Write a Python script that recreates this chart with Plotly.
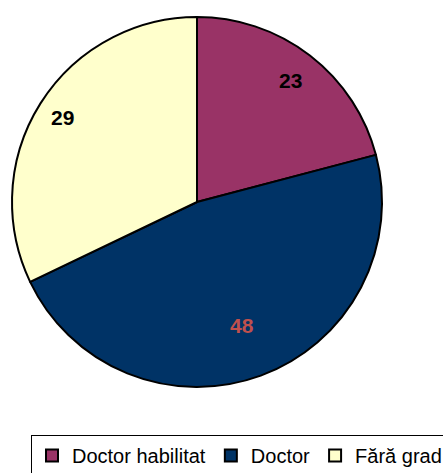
import math
import plotly.graph_objects as go

labels = ["Doctor habilitat", "Doctor", "Fără grad"]
# slice sizes as drawn in the picture (share of the circle, %)
values = [20.9, 47.0, 32.1]
# numbers printed on the slices
value_labels = [23, 48, 29]
colors = ["#993366", "#003366", "#FFFFCC"]
label_colors = ["#000000", "#C0504D", "#000000"]
label_radius = [0.83, 0.71, 0.86]   # label distance from centre, fraction of radius

W, H = 443, 473
M_B = 73
dom_x = [0.0271, 0.8623]
dom_y = [0.0325, 0.9575]
FONT = "Arial, Liberation Sans, sans-serif"

fig = go.Figure(go.Pie(
    labels=labels,
    values=values,
    sort=False,
    direction="clockwise",
    rotation=0,
    marker=dict(colors=colors, line=dict(color="black", width=2)),
    textinfo="none",
    domain=dict(x=dom_x, y=dom_y),
    customdata=value_labels,
    hovertemplate="%{label}: %{customdata}<extra></extra>",
))

# value labels placed at each slice's mid angle
pw, ph = W, H - M_B
cx = (dom_x[0] + dom_x[1]) / 2 * pw
cy = (dom_y[0] + dom_y[1]) / 2 * ph
R = min((dom_x[1] - dom_x[0]) * pw, (dom_y[1] - dom_y[0]) * ph) / 2
total = sum(values)
cum = 0
for v, lab, c, rf in zip(values, value_labels, label_colors, label_radius):
    ang = (cum + v / 2) / total * 2 * math.pi
    cum += v
    px = cx + rf * R * math.sin(ang)
    py = cy + rf * R * math.cos(ang)
    fig.add_annotation(
        x=px / pw, y=py / ph, xref="paper", yref="paper",
        xanchor="center", yanchor="middle",
        text=f"<b>{lab}</b>", showarrow=False,
        font=dict(family=FONT, size=21, color=c),
    )

fig.update_layout(
    width=W, height=H,
    margin=dict(l=0, r=0, t=0, b=M_B, autoexpand=False),
    paper_bgcolor="white",
    plot_bgcolor="white",
    showlegend=True,
    legend=dict(
        orientation="h",
        x=31 / W, xanchor="left",
        y=1 - 435 / ph, yanchor="top",
        bordercolor="black", borderwidth=1,
        font=dict(family=FONT, size=20, color="black"),
        traceorder="normal",
    ),
)

fig.write_html("out.html", config={"displayModeBar": False},
               post_script="document.body.style.margin='0';")
